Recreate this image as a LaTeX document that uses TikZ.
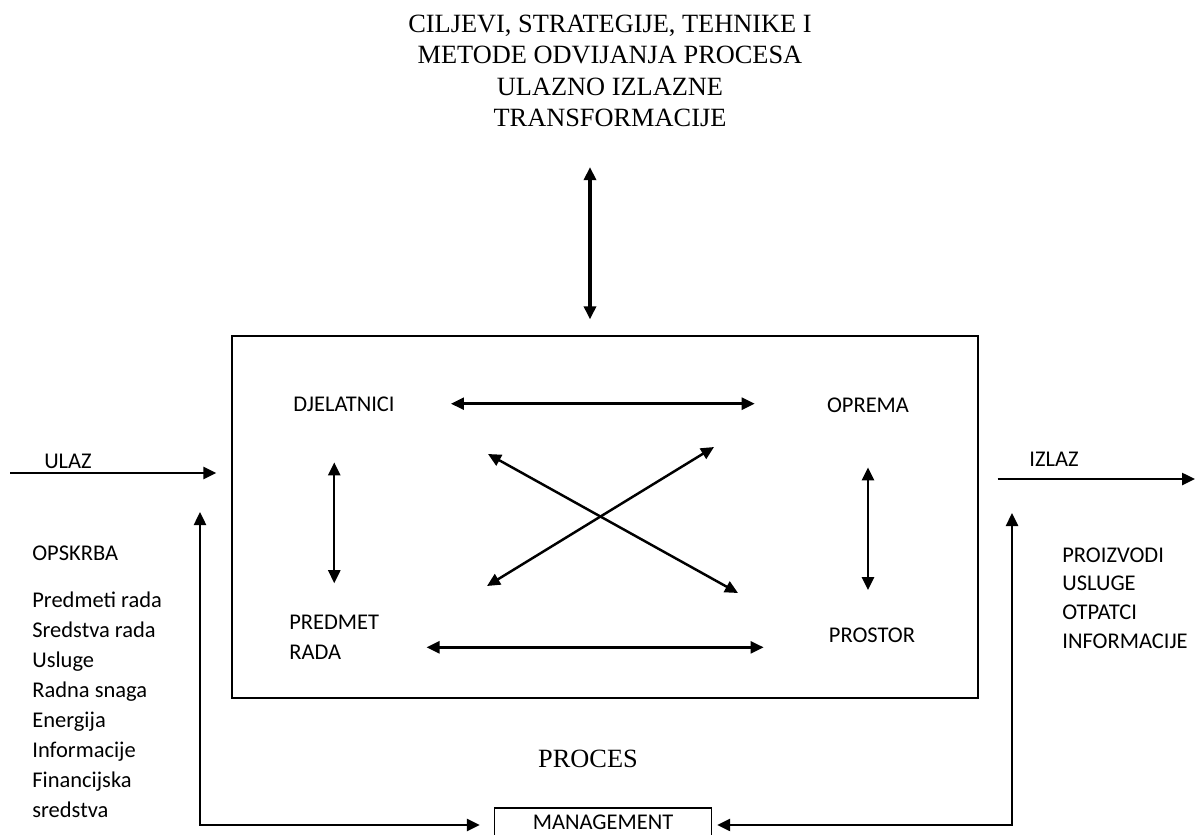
\documentclass[tikz,border=0pt]{standalone}
\usepackage{fontspec}
\setmainfont{Liberation Serif}
\setsansfont{Carlito}
\usetikzlibrary{arrows.meta,positioning}

\begin{document}
\begin{tikzpicture}[
    x=0.02cm, y=-0.02cm,
    lbl/.style={font=\sffamily\fontsize{12.8}{15}\selectfont, inner sep=0pt, text height=8.3pt, text depth=0pt},
    lst/.style={font=\sffamily\fontsize{12.8}{17.07}\selectfont, inner sep=0pt, align=left},
    head/.style={font=\rmfamily\fontsize{15}{17.8}\selectfont, inner sep=0pt, align=center},
    dbl/.style={{Triangle[length=0.26cm,width=0.24cm]}-{Triangle[length=0.26cm,width=0.24cm]}, line width=1.4pt},
    arr/.style={-{Triangle[length=0.26cm,width=0.24cm]}, line width=1.4pt}
]
    \clip (0,0) rectangle (1197,835);
    \fill[white] (0,0) rectangle (1197,835);

    % Title
    \node[head] (title) at (610,71) {CILJEVI, STRATEGIJE, TEHNIKE I\\METODE ODVIJANJA PROCESA\\ULAZNO IZLAZNE\\TRANSFORMACIJE};

    % Process box and its elements
    \node[draw, line width=0.8pt, minimum width=14.92cm, minimum height=7.24cm, inner sep=0pt] (proc) at (605,517) {};
    \node[lbl, anchor=base] (djel) at (344,411) {DJELATNICI};
    \node[lbl, anchor=base] (oprema) at (868,412) {OPREMA};
    \node[lst, anchor=base west] (predmet) at (289,659) {PREDMET\\RADA};
    \node[lbl, anchor=base] (prostor) at (872,642) {PROSTOR};
    \node[head, anchor=base] (proces) at (588,767) {PROCES};

    % Input and output
    \node[lbl, anchor=base] (ulaz) at (68,468) {ULAZ};
    \node[lbl, anchor=base] (izlaz) at (1054,466) {IZLAZ};
    \node[lbl, anchor=base west] (opskrba) at (32,560) {OPSKRBA};
    \node[lst, anchor=base west] (ulazi) at (32,817) {Predmeti rada\\Sredstva rada\\Usluge\\Radna snaga\\Energija\\Informacije\\Financijska\\sredstva};
    \node[lst, anchor=base west, font=\sffamily\fontsize{12.8}{16.3}\selectfont] (izlazi) at (1062,648) {PROIZVODI\\USLUGE\\OTPATCI\\INFORMACIJE};

    % Management
    \node[lbl, draw, line width=0.8pt, minimum width=4.34cm, text height=0.29cm, text depth=1cm, inner ysep=0.13cm, anchor=base] (mgmt) at (603,829) {MANAGEMENT};

    % Arrows
    \coordinate (axis) at (590,0);
    \draw[dbl, line width=2pt, shorten <=0.8cm, shorten >=0.32cm] (title.south -| axis) -- (proc.north -| axis);
    \draw[dbl, shorten <=1.12cm, shorten >=1.44cm] (djel.east) -- (djel.east -| oprema.west);
    \draw[dbl, shorten <=1.02cm, shorten >=0.62cm] (djel.south -| predmet.north) -- (predmet.north);
    \draw[dbl, shorten <=1.1cm, shorten >=0.74cm] (oprema.south) -- (oprema.south |- prostor.north);
    \coordinate (rada) at ([yshift=-6pt]predmet.east);
    \draw[dbl, shorten <=0.94cm, shorten >=1.3cm] (rada) -- (rada -| prostor.west);

    % Crossing arrows
    \coordinate (xa1) at (488,454);
    \coordinate (xa2) at (738,593);
    \coordinate (xb1) at (487,586);
    \coordinate (xb2) at (714,447);
    \draw[dbl] (xa1) -- (xa2);
    \draw[dbl] (xb1) -- (xb2);

    % In and out
    \coordinate (ulazpt) at (10,473);
    \draw[arr, shorten >=0.3cm] (ulazpt) -- (ulazpt -| proc.west);
    \coordinate (izlazpt) at (1195,479);
    \draw[arr, shorten <=0.38cm] (izlazpt -| proc.east) -- (izlazpt);

    % Feedback through management
    \coordinate (fbL) at (200,512);
    \coordinate (fbR) at (1012,513);
    \draw[dbl, shorten >=0.28cm] (fbL) |- (mgmt.mid west);
    \draw[dbl, shorten >=0.1cm] (fbR) |- (mgmt.mid east);
\end{tikzpicture}
\end{document}
